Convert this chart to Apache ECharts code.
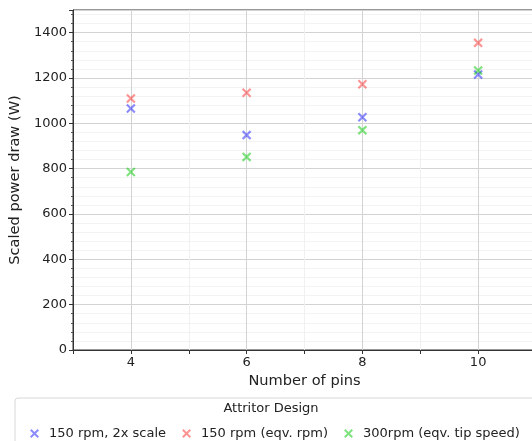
<!DOCTYPE html>
<html>
<head>
<meta charset="utf-8">
<script src="https://cdn.jsdelivr.net/npm/echarts@6/dist/echarts.min.js"></script>
<style>html,body{margin:0;padding:0;background:#fff;}#c{width:532px;height:441px;}</style>
</head>
<body>
<div id="c"></div>
<script>
const pins = [4, 6, 8, 10];
const blueVals = [1065, 948, 1027, 1215];
const redVals = [1110, 1135, 1172, 1355];
const greenVals = [785, 852, 970, 1233];
const seriesNames = ['150 rpm, 2x scale', '150 rpm (eqv. rpm)', '300rpm (eqv. tip speed)'];
const seriesColors = ['rgba(0,0,255,0.45)', 'rgba(255,0,0,0.42)', 'rgba(0,200,0,0.5)'];
const xTickLabels = [4, 6, 8, 10];

const X = 'path://M1.6,0 L5,3.4 L8.4,0 L10,1.6 L6.6,5 L10,8.4 L8.4,10 L5,6.6 L1.6,10 L0,8.4 L3.4,5 L0,1.6 Z';
const font = 'DejaVu Sans';
const chart = echarts.init(document.getElementById('c'), null, {renderer: 'canvas'});
const allVals = [blueVals, redVals, greenVals];
chart.setOption({
  animation: false,
  textStyle: {fontFamily: font},
  grid: {left: 73, right: -4, top: 10, bottom: 91, containLabel: false, outerBoundsMode: 'none',
    show: true, borderColor: '#333', borderWidth: 1, backgroundColor: 'transparent'},
  xAxis: {
    type: 'value', min: 3, max: 11, interval: 1,
    name: 'Number of pins', nameLocation: 'middle', nameGap: 24,
    nameTextStyle: {fontSize: 14.6, color: '#222', fontFamily: font},
    axisLine: {lineStyle: {color: '#333'}},
    axisTick: {length: 4, lineStyle: {color: '#333'}},
    axisLabel: {fontSize: 13, color: '#222', fontFamily: font, margin: 6,
      formatter: v => xTickLabels.indexOf(v) >= 0 ? String(v) : ''},
    splitLine: {show: true, lineStyle: {color: ['#f0f0f0', '#d3d3d3'], width: 1}}
  },
  yAxis: {
    type: 'value', min: 0, max: 1500, interval: 200,
    name: 'Scaled power draw (W)', nameLocation: 'middle', nameGap: 43, nameRotate: 90,
    nameTextStyle: {fontSize: 14.6, color: '#222', fontFamily: font},
    axisLine: {show: true, lineStyle: {color: '#333'}},
    axisTick: {show: true, length: 4, lineStyle: {color: '#333'}},
    minorTick: {show: true, splitNumber: 5, length: 2, lineStyle: {color: '#555'}},
    minorSplitLine: {show: true, lineStyle: {color: '#f3f3f3'}},
    axisLabel: {fontSize: 13, color: '#222', fontFamily: font, margin: 6, showMaxLabel: false,
      formatter: v => String(v)},
    splitLine: {show: true, lineStyle: {color: '#d3d3d3'}}
  },
  legend: {
    left: 25, top: 422, width: 700, itemGap: 16, itemWidth: 9, itemHeight: 9,
    textStyle: {fontSize: 13, color: '#222', fontFamily: font, padding: [0, 0, 0, 5]},
    data: seriesNames.map(n => ({name: n, icon: X}))
  },
  graphic: [
    {type: 'rect', shape: {x: 15, y: 398, width: 540, height: 60, r: 3},
      style: {fill: '#fff', stroke: '#d8d8d8', lineWidth: 1}, z: -1},
    {type: 'text', x: 271, y: 402,
      style: {text: 'Attritor Design', font: '13px "DejaVu Sans"', fill: '#222', align: 'center'}}
  ],
  series: seriesNames.map((n, i) => ({
    name: n, type: 'scatter', symbol: X, symbolSize: 9.5,
    itemStyle: {color: seriesColors[i], opacity: 1},
    data: pins.map((p, j) => [p, allVals[i][j]])
  }))
});
</script>
</body>
</html>
